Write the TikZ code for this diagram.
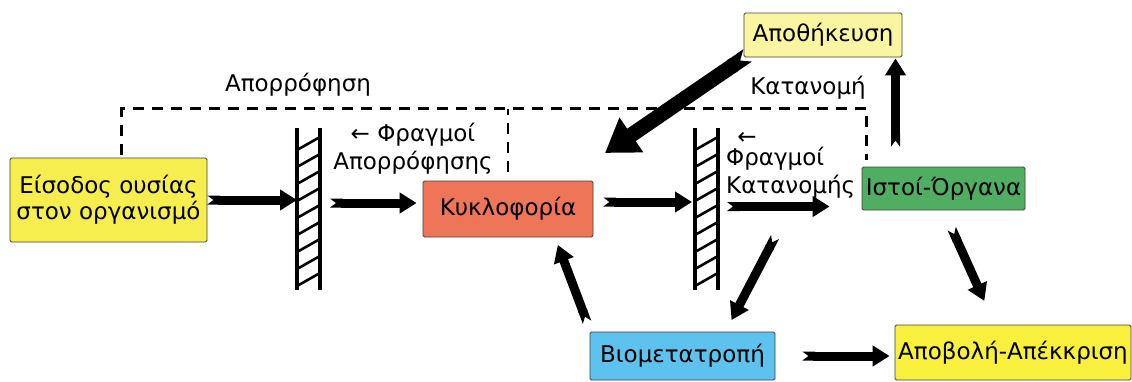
\documentclass[tikz,border=0pt]{standalone}
\usepackage{fontspec}
\setmainfont{DejaVu Sans}
\usetikzlibrary{arrows.meta}

\definecolor{entryyellow}{RGB}{246,238,78}
\definecolor{storeyellow}{RGB}{250,245,160}
\definecolor{excryellow}{RGB}{248,240,60}
\definecolor{circred}{RGB}{238,117,88}
\definecolor{tissuegreen}{RGB}{80,174,98}
\definecolor{biotblue}{RGB}{94,194,238}

\tikzset{
  box/.style={draw=black!75, line width=0.8pt, rounded corners=1.5pt, inner sep=2pt,
    font=\fontsize{23}{26}\selectfont, align=center},
  txt/.style={inner sep=0pt, font=\fontsize{23}{28}\selectfont},
  flow/.style={line width=9pt, {Triangle Cap[reversed, length=6pt]}-{Triangle[length=17pt,width=20pt]}},
  bigflow/.style={line width=15pt, {Triangle Cap[reversed, length=9pt]}-{Triangle[length=32pt,width=40pt]}},
  barrier/.style={minimum width=23pt, minimum height=162pt, inner sep=0pt, outer sep=0pt},
  wall/.style={line width=3.2pt},
  hatch/.style={line width=2.6pt},
  absorb/.style={line width=2.8pt, dash pattern=on 11pt off 8pt}
}

\begin{document}
\begin{tikzpicture}[x=1pt, y=-1pt]
    \useasboundingbox (0,0) rectangle (1132,381);

    % boxes
    \node[box, fill=entryyellow, minimum width=197pt, minimum height=84pt] (entry) at (108.5,200) {Είσοδος ουσίας\\στον οργανισμό};
    \node[box, fill=circred, minimum width=170pt, minimum height=56pt] (circ) at (508,209) {Κυκλοφορία};
    \node[box, fill=storeyellow, minimum width=158pt, minimum height=44pt] (store) at (823,35) {Αποθήκευση};
    \node[box, fill=tissuegreen, minimum width=163pt, minimum height=43pt] (tissue) at (943.5,188.5) {Ιστοί-Όργανα};
    \node[box, fill=biotblue, minimum width=185pt, minimum height=48pt] (biot) at (682.5,356) {Βιομετατροπή};
    \node[box, fill=excryellow, minimum width=236pt, minimum height=55pt] (excr) at (1013,352.5) {Αποβολή-Απέκκριση};

    % barriers
    \node[barrier] (bar1) at (308.5,209) {};
    \node[barrier] (bar2) at (706.5,209) {};
    \foreach \b in {bar1,bar2} {
        \draw[wall] (\b.north west) -- (\b.south west);
        \draw[wall] (\b.north east) -- (\b.south east);
        \foreach \k in {0,...,8}
            \draw[hatch] (\b.north west) ++(0,22+17*\k) -- ++(23,-13);
    }

    % dashed path
    \draw[absorb] ([xshift=13pt,yshift=3pt]entry.north) |- ([xshift=5pt,yshift=58pt]tissue.north west) -- ([xshift=5pt,yshift=7pt]tissue.north west);
    \draw[absorb] ([yshift=9pt]circ.north) -- ++(0,-63);

    % texts
    \node[txt] (absorbtxt) at (298,85) {Απορρόφηση};
    \node[txt, align=center] (bar1txt) at (413,149) {← Φραγμοί\\Απορρόφησης};
    \node[txt] (bar2arrow) at (747,138) {←};
    \node[txt, align=left, anchor=north west] (bar2txt) at (726,147) {Φραγμοί\\Κατανομής};
    \node[txt] (distxt) at (808,88) {Κατανομή};

    \coordinate (storeend) at (605,153);
    \coordinate (bar2out) at (775,237);

    % flows
    \draw[flow] (entry.east) -- (entry.east -| bar1.west);
    \draw[flow, shorten <=10pt, shorten >=6pt] ([yshift=6pt]circ.west -| bar1.east) -- ([yshift=6pt]circ.west);
    \draw[flow, shorten <=10pt, shorten >=3pt] ([yshift=7pt]circ.east) -- ([yshift=7pt]circ.east -| bar2.west);
    \draw[flow, shorten <=9pt, shorten >=32pt] ([yshift=-18pt]tissue.west -| bar2.east) -- ([yshift=-18pt]tissue.west);
    \draw[bigflow] ([xshift=4pt,yshift=2pt]store.south west) -- (storeend);
    \draw[flow, shorten <=20pt, shorten >=1pt] ([xshift=-48pt]tissue.north) -- ([xshift=-48pt]tissue.north |- store.south);
    \draw[flow, shorten <=20pt, shorten >=26pt] (tissue.south) -- ([xshift=-18pt]excr.north);
    \draw[flow, shorten >=13pt] (bar2out) -- ([xshift=43pt]biot.north);
    \draw[flow, shorten <=10pt, shorten >=8pt] ([xshift=1pt]biot.north west) -- ([xshift=47pt]circ.south);
    \draw[flow, shorten <=27pt, shorten >=5pt] (biot.east) -- (biot.east -| excr.west);
\end{tikzpicture}
\end{document}
